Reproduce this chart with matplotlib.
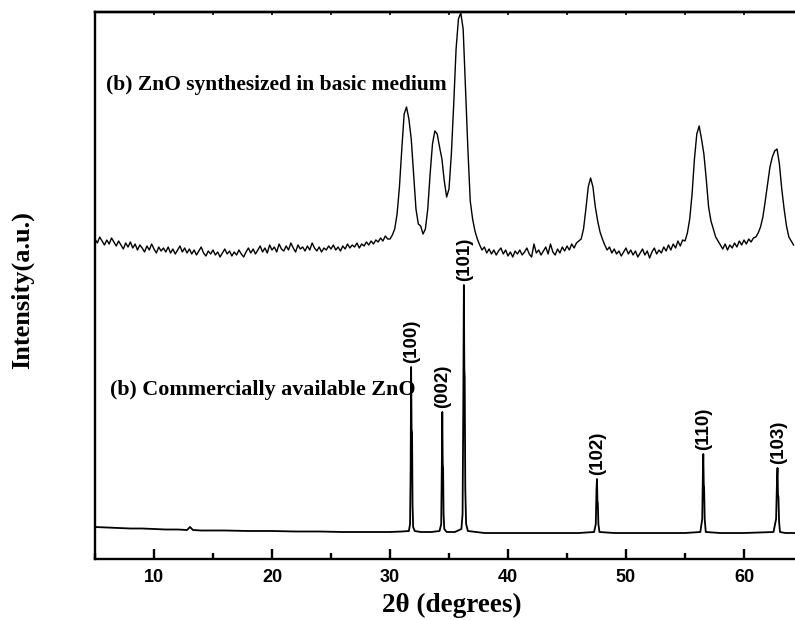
import numpy as np
import matplotlib
matplotlib.use("Agg")
import matplotlib.pyplot as plt
from matplotlib.ticker import MultipleLocator, NullFormatter

# ---------------- data (arbitrary intensity units) -------------
# (b) ZnO synthesized in basic medium: 2-theta grid 5.0 .. 64.2 step 0.2
synth_start = 5.0
synth_step = 0.2
synth_int = [
    320, 316, 322, 318, 314, 319, 315, 321, 317, 313,   # 5.0-6.8
    318, 314, 310, 316, 312, 317, 311, 315, 309, 314,   # 7.0-8.8
    311, 307, 313, 309, 315, 310, 306, 312, 308, 311,   # 9.0-10.8
    307, 312, 306, 310, 305, 309, 313, 307, 311, 306,   # 11.0-12.8
    310, 305, 309, 304, 308, 312, 306, 303, 308, 305,   # 13.0-14.8
    309, 304, 307, 302, 306, 310, 305, 308, 303, 307,   # 15.0-16.8
    304, 309, 305, 302, 307, 311, 306, 310, 305, 309,   # 17.0-18.8
    313, 307, 311, 306, 314, 309, 312, 307, 315, 310,   # 19.0-20.8
    308, 313, 309, 316, 311, 307, 314, 310, 312, 308,   # 21.0-22.8
    313, 309, 316, 311, 308, 312, 307, 311, 309, 313,   # 23.0-24.8
    310, 314, 309, 312, 308, 313, 310, 315, 311, 314,   # 25.0-26.8
    312, 316, 311, 315, 313, 317, 314, 318, 315, 319,   # 27.0-28.8
    317, 321, 318, 323, 320, 320, 324, 330, 345, 372,   # 29.0-30.8
    410, 445, 452, 440, 420, 385, 350, 335, 333, 325,   # 31.0-32.8
    330, 350, 385, 415, 428, 425, 412, 400, 378, 362,   # 33.0-34.8
    370, 405, 455, 510, 540, 546, 530, 470, 410, 358,   # 35.0-36.8
    340, 328, 320, 314, 309, 312, 306, 310, 305, 309,   # 37.0-38.8
    304, 308, 311, 305, 309, 303, 307, 302, 308, 305,   # 39.0-40.8
    309, 304, 307, 311, 305, 302, 315, 306, 309, 304,   # 41.0-42.8
    308, 312, 305, 315, 307, 304, 310, 306, 312, 308,   # 43.0-44.8
    313, 309, 315, 311, 316, 318, 320, 330, 350, 372,   # 45.0-46.8
    381, 372, 352, 338, 327, 320, 314, 309, 312, 306,   # 47.0-48.8
    310, 305, 308, 303, 307, 311, 305, 309, 304, 308,   # 49.0-50.8
    302, 306, 310, 304, 308, 301, 307, 311, 305, 309,   # 51.0-52.8
    306, 312, 308, 314, 309, 315, 311, 318, 313, 319,   # 53.0-54.8
    318, 326, 340, 365, 400, 425, 433, 420, 405, 380,   # 55.0-56.8
    352, 338, 330, 322, 318, 314, 310, 315, 309, 314,   # 57.0-58.8
    311, 316, 312, 318, 314, 319, 315, 320, 317, 321,   # 59.0-60.8
    322, 326, 332, 342, 358, 375, 392, 402, 408, 410,   # 61.0-62.8
    395, 370, 350, 333, 322, 318, 314,                  # 63.0-64.2
]
synth_2theta = synth_start + synth_step * np.arange(len(synth_int))

# (b) Commercially available ZnO
comm_2theta = [
    5.0, 6.0, 7.0, 8.0, 9.0, 10.0, 11.0, 12.0, 12.8, 13.05, 13.3, 14.0, 16.0, 18.0,
    20.0, 22.0, 24.0, 26.0, 28.0, 30.0, 31.0, 31.6,
    31.70, 31.75, 31.79, 31.83, 31.87, 31.91, 31.96, 32.1,
    32.6, 33.5, 34.2,
    34.34, 34.39, 34.43, 34.47, 34.50, 34.54, 34.6, 34.8,
    35.5, 36.05,
    36.15, 36.21, 36.26, 36.30, 36.33, 36.38, 36.45, 36.6,
    38.0, 40.0, 42.0, 44.0, 46.0, 47.3,
    47.44, 47.50, 47.54, 47.58, 47.61, 47.66, 47.75,
    49.0, 51.0, 53.0, 55.0, 56.3,
    56.46, 56.52, 56.55, 56.59, 56.62, 56.67, 56.76,
    58.0, 60.0, 62.5,
    62.72, 62.80, 62.84, 62.88, 62.92, 62.97, 63.05,
    63.5, 64.3,
]
comm_int = [
    32, 31.5, 31, 30.5, 30.5, 30, 29.5, 29.5, 29, 32, 29, 28.5, 28.5, 28,
    28, 27.5, 27.5, 27, 27, 27, 27.5, 28,
    35, 90, 192, 130, 126, 55, 32, 28,
    27, 27, 28,
    35, 90, 147, 95, 91, 45, 30, 27,
    27, 30,
    45, 150, 274, 190, 182, 70, 35, 28,
    26, 26, 26, 26, 26, 27,
    35, 70, 80, 58, 56, 35, 27,
    26, 26, 26, 26, 27,
    40, 90, 105, 75, 71, 40, 27,
    26, 26, 27,
    40, 80, 91, 64, 62, 38, 27,
    26, 26,
]

hkl_labels = ["(100)", "(002)", "(101)", "(102)", "(110)", "(103)"]
hkl_2theta = [31.79, 34.43, 36.26, 47.54, 56.55, 62.84]
hkl_top = [192, 147, 274, 80, 105, 91]

xticks_major = [10, 20, 30, 40, 50, 60]

# ---------------- figure ----------------
W, H = 795, 620
fig = plt.figure(figsize=(W / 100, H / 100), dpi=100)
ax = fig.add_axes([95 / W, 61 / H, 700 / W, 547 / H])

ax.plot(synth_2theta, synth_int, color="black", lw=1.0)
ax.plot(comm_2theta, comm_int, color="black", lw=1.3)

ax.set_xlim(5, 5 + 700 / 11.8)
ax.set_ylim(0, 547)

for lab, x, top in zip(hkl_labels, hkl_2theta, hkl_top):
    ax.annotate(lab, xy=(x, top), xytext=(0.5, 3), textcoords="offset points",
                rotation=90, ha="center", va="bottom",
                fontsize=13.5, fontweight="bold", family="Liberation Sans")

ax.text(5.93, 474, "(b) ZnO synthesized in basic medium", ha="left", va="center",
        fontsize=15.5, fontweight="bold", family="Liberation Serif")
ax.text(6.27, 169, "(b) Commercially available ZnO", ha="left", va="center",
        fontsize=15.8, fontweight="bold", family="Liberation Serif")

# spines
for s in ["left", "bottom", "top"]:
    ax.spines[s].set_linewidth(1.7)
ax.spines["right"].set_visible(False)

ax.set_xticks(xticks_major)
ax.xaxis.set_minor_locator(MultipleLocator(5))
ax.tick_params(axis="x", which="major", direction="in", length=7, width=1.7,
               labelsize=13, pad=7, top=False)
ax.tick_params(axis="x", which="minor", direction="in", length=4, width=1.7, top=False)
for t in ax.get_xticklabels():
    t.set_fontweight("bold")
    t.set_family("Liberation Sans")
ax.set_yticks([])

# small ticks on the top spine
sec = ax.secondary_xaxis("top")
sec.set_xticks(np.arange(5, 65, 5))
sec.tick_params(direction="in", length=2.5, width=1.2, labeltop=False)
sec.xaxis.set_major_formatter(NullFormatter())
sec.spines["top"].set_linewidth(1.7)

fig.text(22 / W, 1 - 290 / H, "Intensity(a.u.)", rotation=90, ha="center", va="center",
         fontsize=19, fontweight="bold", family="Liberation Serif")
fig.text(452 / W, 1 - 605 / H, "2θ (degrees)", ha="center", va="center",
         fontsize=19.5, fontweight="bold", family="Liberation Serif")

fig.savefig("out.png", dpi=100)
